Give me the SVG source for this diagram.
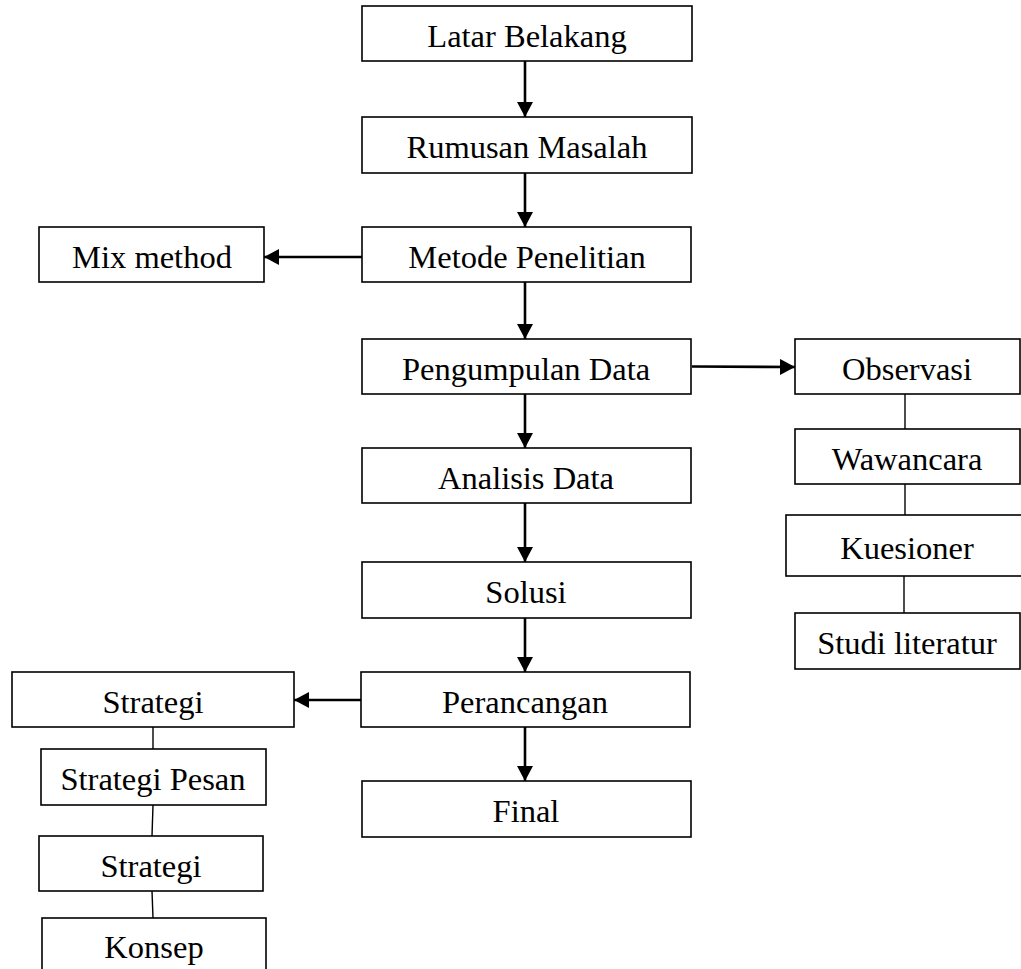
<svg xmlns="http://www.w3.org/2000/svg" width="1021" height="969" viewBox="0 0 1021 969">
<style>
.box{fill:#fff;stroke:#000;stroke-width:1.6}
.t{font-family:"Liberation Serif","Times New Roman",serif;font-size:32.5px;fill:#000;text-anchor:middle}
.arr{stroke:#000;stroke-width:2.6;fill:none}
.ln{stroke:#000;stroke-width:1.4;fill:none}
</style>
<defs>
<marker id="ah" markerUnits="userSpaceOnUse" markerWidth="16" markerHeight="16" refX="15" refY="8" orient="auto">
<path d="M0,0 L15,8 L0,16 Z" fill="#000"/>
</marker>
</defs>
<rect width="1021" height="969" fill="#fff"/>
<g id="connectors">
<line class="arr" x1="525" y1="61" x2="525" y2="117" marker-end="url(#ah)"/>
<line class="arr" x1="525" y1="173" x2="525" y2="227" marker-end="url(#ah)"/>
<line class="arr" x1="362" y1="257" x2="264" y2="257" marker-end="url(#ah)"/>
<line class="arr" x1="525" y1="282" x2="525" y2="339" marker-end="url(#ah)"/>
<line class="arr" x1="692" y1="366.5" x2="795" y2="367" marker-end="url(#ah)"/>
<line class="arr" x1="525" y1="394" x2="525" y2="448" marker-end="url(#ah)"/>
<line class="arr" x1="525" y1="503" x2="525" y2="562" marker-end="url(#ah)"/>
<line class="arr" x1="525" y1="618" x2="525" y2="672" marker-end="url(#ah)"/>
<line class="arr" x1="361" y1="700" x2="294" y2="700" marker-end="url(#ah)"/>
<line class="arr" x1="525" y1="727" x2="525" y2="781" marker-end="url(#ah)"/>
<line class="ln" x1="905" y1="394" x2="905" y2="429"/>
<line class="ln" x1="905" y1="484" x2="905" y2="515"/>
<line class="ln" x1="904" y1="576" x2="904" y2="613"/>
<line class="ln" x1="153" y1="727" x2="153" y2="749"/>
<line class="ln" x1="153" y1="805" x2="152" y2="836"/>
<line class="ln" x1="152" y1="891" x2="153" y2="918"/>
</g>
<g id="latar"><rect class="box" x="362" y="6" width="330" height="55"/><text class="t" x="527" y="46.5">Latar Belakang</text></g>
<g id="rumusan"><rect class="box" x="362" y="117" width="330" height="56"/><text class="t" x="527" y="158">Rumusan Masalah</text></g>
<g id="metode"><rect class="box" x="362" y="227" width="329" height="55"/><text class="t" x="527" y="268">Metode Penelitian</text></g>
<g id="mix"><rect class="box" x="39" y="227" width="225" height="55"/><text class="t" x="152" y="268">Mix method</text></g>
<g id="pengumpulan"><rect class="box" x="362" y="339" width="329" height="55"/><text class="t" x="526" y="380">Pengumpulan Data</text></g>
<g id="observasi"><rect class="box" x="795" y="339" width="225" height="55"/><text class="t" x="907" y="380">Observasi</text></g>
<g id="wawancara"><rect class="box" x="795" y="429" width="225" height="55"/><text class="t" x="907" y="470">Wawancara</text></g>
<g id="kuesioner"><rect class="box" x="786" y="515" width="245" height="61"/><text class="t" x="907" y="559">Kuesioner</text></g>
<g id="studi"><rect class="box" x="795" y="613" width="225" height="56"/><text class="t" x="907" y="654">Studi literatur</text></g>
<g id="analisis"><rect class="box" x="362" y="448" width="329" height="55"/><text class="t" x="526" y="489">Analisis Data</text></g>
<g id="solusi"><rect class="box" x="362" y="562" width="329" height="56"/><text class="t" x="526" y="603">Solusi</text></g>
<g id="perancangan"><rect class="box" x="361" y="672" width="329" height="55"/><text class="t" x="525" y="713">Perancangan</text></g>
<g id="final"><rect class="box" x="362" y="781" width="329" height="56"/><text class="t" x="526" y="822">Final</text></g>
<g id="strategi1"><rect class="box" x="12" y="672" width="282" height="55"/><text class="t" x="153" y="713">Strategi</text></g>
<g id="strategipesan"><rect class="box" x="41" y="749" width="225" height="56"/><text class="t" x="153" y="790">Strategi Pesan</text></g>
<g id="strategi2"><rect class="box" x="39" y="836" width="224" height="55"/><text class="t" x="151" y="877">Strategi</text></g>
<g id="konsep"><rect class="box" x="42" y="918" width="224" height="60"/><text class="t" x="154" y="958">Konsep</text></g>
</svg>
